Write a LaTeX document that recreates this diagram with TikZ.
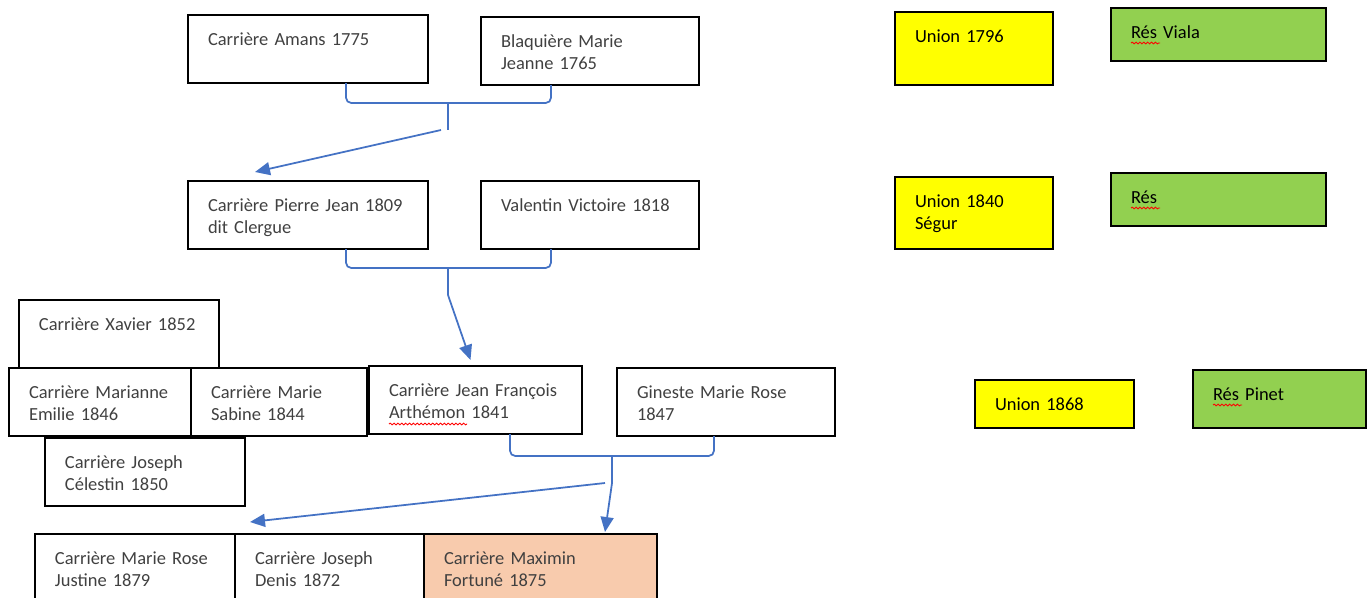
\documentclass[tikz,border=0pt]{standalone}
\usepackage{fontspec}
\setmainfont{Carlito}
\usepackage{xcolor}
\usetikzlibrary{arrows.meta,decorations.pathmorphing}
\definecolor{cText}{HTML}{404040}
\definecolor{cLink}{HTML}{4472C4}
\definecolor{cUnion}{HTML}{FFFF00}
\definecolor{cRes}{HTML}{92D050}
\definecolor{cSelf}{HTML}{F8CBAD}
\tikzset{
  fam/.style={draw=black, line width=0.8pt, anchor=north west, align=left, outer sep=0pt,
              font=\fontsize{10.5}{13}\selectfont, text=cText, inner xsep=0.4cm, inner ysep=0pt,
              text width=#1, text height=0.6cm, text depth=0.76cm},
  union/.style={fam=#1, fill=cUnion, text=black},
  res/.style={fam=#1, fill=cRes, text=black, text depth=0.46cm},
  brace/.style={draw=cLink, line width=1pt, rounded corners=3pt},
  link/.style={draw=cLink, line width=1pt, -{Triangle[length=3mm,width=2.6mm]}},
  squig/.style={draw=red, line width=0.5pt, decorate, decoration={snake, amplitude=0.5pt, segment length=2.2pt}},
}
\begin{document}
\begin{tikzpicture}
\useasboundingbox (0,0) rectangle (27.42,-11.94);
% generation 1
\node[fam=4.0cm] (amans) at (3.76,-0.30) {Carrière Amans 1775};
\node[fam=3.56cm] (blaq) at (9.62,-0.34) {Blaquière Marie\\Jeanne 1765};
% generation 2
\node[fam=4.0cm] (pierre) at (3.76,-3.62) {Carrière Pierre Jean 1809\\dit Clergue};
\node[fam=3.56cm] (valentin) at (9.62,-3.62) {Valentin Victoire 1818};
% generation 3
\node[fam=3.2cm] (xavier) at (0.38,-6.00) {Carrière Xavier 1852};
\node[fam=2.84cm] (marianne) at (0.18,-7.36) {Carrière Marianne\\Emilie 1846};
\node[fam=2.72cm] (sabine) at (marianne.north east) {Carrière Marie\\Sabine 1844};
\node[fam=3.46cm] (jeanfr) at (7.38,-7.32) {Carrière Jean François\\Arthémon 1841};
\node[fam=3.56cm] (gineste) at (12.34,-7.36) {Gineste Marie Rose\\1847};
\node[fam=3.2cm] (celestin) at (0.90,-8.76) {Carrière Joseph\\Célestin 1850};
% generation 4
\node[fam=3.2cm] (marierose) at (0.70,-10.68) {Carrière Marie Rose\\Justine 1879};
\node[fam=2.98cm] (denis) at (marierose.north east) {Carrière Joseph\\Denis 1872};
\node[fam=3.86cm, fill=cSelf] (maximin) at (denis.north east) {Carrière Maximin\\Fortuné 1875};
% unions
\node[union=2.36cm, text depth=0.86cm] (u1796) at (17.90,-0.24) {Union 1796};
\node[res=3.5cm] (viala) at (22.22,-0.16) {Rés Viala};
\node[union=2.36cm, text depth=0.84cm] (u1840) at (17.90,-3.54) {Union 1840\\Ségur};
\node[res=3.5cm] (res) at (22.22,-3.46) {Rés};
\node[union=2.38cm, text depth=0.36cm] (u1868) at (19.50,-7.60) {Union 1868};
\node[res=2.66cm, text depth=0.56cm] (pinet) at (23.86,-7.40) {Rés Pinet};
% spelling marks
\draw[squig] ([xshift=0.4cm,yshift=-1.16cm]jeanfr.north west) -- ++(1.56,0);
\draw[squig] ([xshift=0.4cm,yshift=-0.70cm]viala.north west) -- ++(0.58,0);
\draw[squig] ([xshift=0.4cm,yshift=-0.70cm]res.north west) -- ++(0.58,0);
\draw[squig] ([xshift=0.4cm,yshift=-0.70cm]pinet.north west) -- ++(0.58,0);
% couples
\draw[brace] ([xshift=0.76cm]amans.south) -- ++(0,-0.4) -| ([xshift=-0.78cm]blaq.south);
\draw[brace] (8.96,-2.06) -- (8.96,-2.6) coordinate (c1);
\draw[link] ([xshift=-0.14cm]c1) -- ([xshift=-1.06cm,yshift=0.18cm]pierre.north);
\draw[brace] ([xshift=0.76cm]pierre.south) -- ++(0,-0.38) -| ([xshift=-0.78cm]valentin.south);
\draw[brace] (8.96,-5.36) -- (8.96,-5.9) coordinate (c2);
\draw[link] (c2) -- ([xshift=-0.1cm,yshift=0.12cm]jeanfr.north);
\draw[brace] ([xshift=0.69cm]jeanfr.south) -- ++(0,-0.44) -| ([xshift=-0.24cm]gineste.south);
\draw[brace] (12.24,-9.12) -- (12.24,-9.66) coordinate (c3);
\draw[link] (c3) -- ([xshift=1.29cm,yshift=0.04cm]maximin.north);
\draw[link] ([xshift=-0.14cm]c3) -- ([xshift=2.3cm,yshift=0.24cm]marierose.north);
\end{tikzpicture}
\end{document}
